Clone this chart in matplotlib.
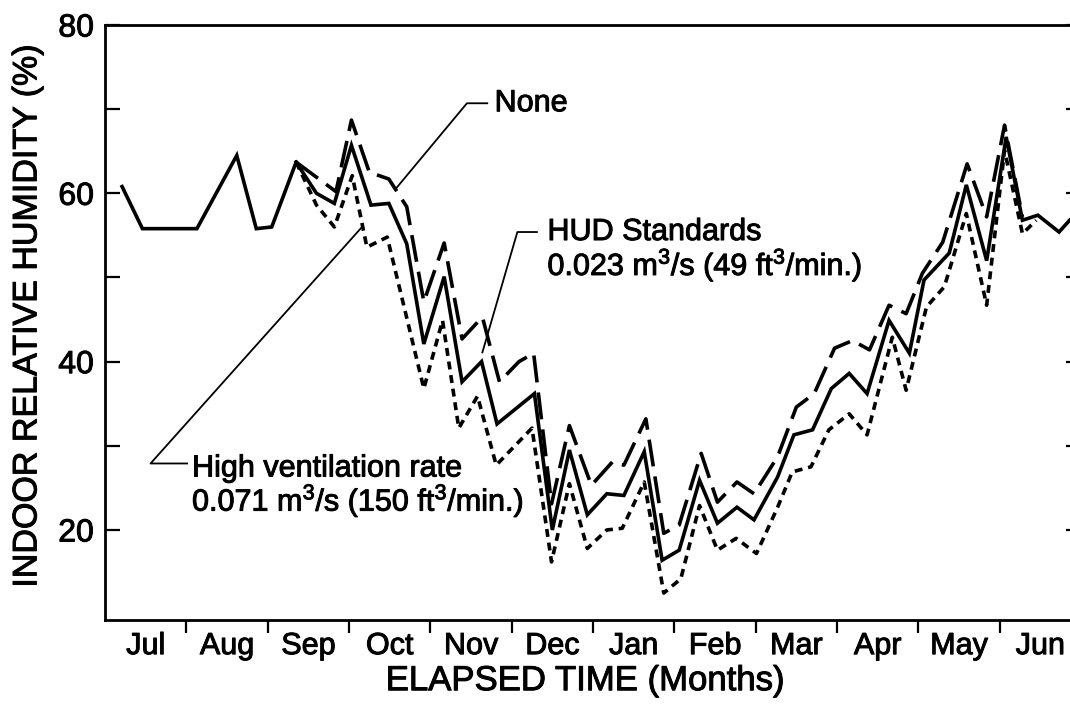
import matplotlib
matplotlib.use("Agg")
import matplotlib.pyplot as plt
import matplotlib.patheffects as pe
import numpy as np

plt.rcParams['font.family'] = ['Liberation Sans', 'DejaVu Sans']
plt.rcParams['mathtext.fontset'] = 'custom'
plt.rcParams['mathtext.rm'] = 'Liberation Sans'
plt.rcParams['mathtext.it'] = 'Liberation Sans:italic'
plt.rcParams['mathtext.bf'] = 'Liberation Sans:bold'

# ---------------- data (x in elapsed months from start of July) -------------
months = ["Jul", "Aug", "Sep", "Oct", "Nov", "Dec", "Jan", "Feb", "Mar", "Apr", "May", "Jun"]

# common record before the three cases diverge
x_common = [0.21, 0.46, 1.13, 1.62, 1.86, 2.05, 2.35]
y_common = [60.8, 55.8, 55.8, 64.5, 55.8, 56.0, 63.7]

# None (long dashes)
x_none = [2.35, 2.63, 2.84, 3.03, 3.25, 3.49, 3.71, 3.92, 4.17, 4.39, 4.64, 4.85, 5.09,
          5.27, 5.49, 5.71, 5.98, 6.24, 6.38, 6.65, 6.87, 7.06, 7.33, 7.53, 7.77, 7.98,
          8.27, 8.50, 8.72, 8.97, 9.19, 9.40, 9.64, 9.85, 10.05, 10.30, 10.60, 10.84,
          11.06, 11.28]
y_none = [63.7, 61.7, 60.2, 68.7, 62.5, 61.7, 58.4, 47.1, 54.1, 42.7, 45.3, 37.6, 40.0,
          41.0, 23.1, 32.4, 25.3, 28.1, 27.7, 33.2, 19.6, 20.6, 29.1, 23.3, 25.7, 24.3,
          28.7, 34.6, 36.2, 41.6, 42.5, 41.4, 46.7, 45.7, 50.5, 54.2, 63.5, 57.2, 68.1,
          57.2]

# HUD Standards (solid)
x_hud = [2.35, 2.60, 2.82, 3.03, 3.27, 3.49, 3.71, 3.92, 4.17, 4.39, 4.63, 4.82, 5.28,
         5.50, 5.71, 5.93, 6.17, 6.38, 6.63, 6.85, 7.06, 7.31, 7.53, 7.77, 7.98, 8.27,
         8.47, 8.70, 8.93, 9.15, 9.37, 9.64, 9.89, 10.07, 10.38, 10.59, 10.84, 11.08,
         11.28, 11.47, 11.73, 11.86]
y_hud = [63.7, 60.0, 58.8, 65.7, 58.6, 58.8, 54.0, 42.1, 50.1, 37.6, 40.0, 32.6, 36.2,
         20.0, 29.5, 21.8, 24.3, 24.1, 29.3, 16.4, 17.6, 25.9, 20.8, 22.7, 21.2, 26.3,
         31.3, 31.9, 36.8, 38.6, 36.2, 44.9, 41.0, 49.7, 52.9, 61.0, 52.0, 66.7, 56.8,
         57.4, 55.4, 56.8]

# High ventilation rate (short dashes)
x_high = [2.35, 2.60, 2.82, 3.04, 3.22, 3.47, 3.92, 4.15, 4.35, 4.58, 4.81, 5.25, 5.49,
          5.71, 5.93, 6.17, 6.36, 6.63, 6.87, 7.08, 7.31, 7.53, 7.76, 8.01, 8.27, 8.45,
          8.68, 8.90, 9.15, 9.37, 9.68, 9.85, 10.10, 10.32, 10.59, 10.84, 11.06, 11.28,
          11.45]
y_high = [63.7, 58.6, 56.0, 62.1, 53.6, 54.8, 36.8, 44.9, 32.1, 35.9, 27.7, 32.1, 16.2,
          25.5, 17.8, 20.0, 20.2, 25.7, 12.5, 14.2, 22.9, 17.6, 19.0, 17.2, 22.7, 26.9,
          27.5, 31.9, 33.8, 31.3, 42.9, 36.6, 46.5, 48.9, 57.6, 46.7, 65.1, 55.2, 56.8]

y_major = [20, 40, 60, 80]
y_minor = [30, 50, 70]

# ---------------- figure -----------------------------------------------------
W, H = 1070, 704
fig = plt.figure(figsize=(W / 100, H / 100), dpi=100)
ax = fig.add_axes([105 / W, (H - 620) / H, 976 / W, 595 / H])

heavy = [pe.withStroke(linewidth=0.7, foreground='black')]

LW = 2.6
ax.plot(x_common, y_common, color='black', lw=LW, solid_joinstyle='miter')
ax.plot(x_hud, y_hud, color='black', lw=LW, solid_joinstyle='miter')
ax.plot(x_none, y_none, color='black', lw=LW, linestyle=(0, (7.5, 2.8)))
ax.plot(x_high, y_high, color='black', lw=LW, linestyle=(0, (2.2, 1.6)))

ax.set_xlim(0, 12)
ax.set_ylim(9.3, 80)

# spines
for s in ['left', 'bottom', 'top']:
    ax.spines[s].set_linewidth(2.0)
ax.spines['right'].set_visible(False)

# y ticks (inward, both sides)
ax.set_yticks(y_major)
ax.set_yticks(y_minor, minor=True)
ax.tick_params(axis='y', which='both', direction='in', length=11, width=1.6,
               left=True, right=True, labelright=False, labelsize=23, pad=8)

# x ticks: month boundaries marked, labels centred in each month
ax.set_xticks(np.arange(1, 12))
ax.set_xticklabels([])
ax.set_xticks(np.arange(12) + 0.5, minor=True)
ax.set_xticklabels(months, minor=True)
ax.tick_params(axis='x', which='major', direction='out', length=9, width=1.6)
ax.tick_params(axis='x', which='minor', length=0, labelsize=22, pad=8)

for lab in ax.get_yticklabels() + ax.get_xticklabels(minor=True):
    lab.set_path_effects(heavy)

ax.set_xlabel("ELAPSED TIME (Months)", fontsize=25, path_effects=heavy)
ax.xaxis.set_label_coords(0.492, -0.102)
ax.xaxis.label.set_va('center')
ax.set_ylabel("INDOOR RELATIVE HUMIDITY (%)", fontsize=24.5, path_effects=heavy)
ax.yaxis.set_label_coords(-0.079, 0.51)
ax.yaxis.label.set_va('center')

# ---------------- annotations ------------------------------------------------
LLW = 1.3
FS = 22
# None
ax.plot([3.58, 4.45, 4.70], [60.6, 70.7, 70.7], color='black', lw=LLW)
ax.text(4.79, 70.7, "None", fontsize=FS, ha='left', va='center', path_effects=heavy)
# HUD Standards
ax.plot([4.64, 5.07, 5.31], [41.1, 55.4, 55.4], color='black', lw=LLW)
ax.text(5.44, 55.4, "HUD Standards", fontsize=FS, ha='left', va='center',
        path_effects=heavy)
ax.text(5.44, 51.5, r"0.023 m$^{3}$/s (49 ft$^{3}$/min.)", fontsize=FS,
        ha='left', va='center', path_effects=heavy)
# High ventilation rate
ax.plot([3.16, 0.56, 1.01], [56.0, 27.9, 27.9], color='black', lw=LLW)
ax.text(1.07, 27.3, "High ventilation rate", fontsize=FS, ha='left', va='center',
        path_effects=heavy)
ax.text(1.07, 23.5, r"0.071 m$^{3}$/s (150 ft$^{3}$/min.)", fontsize=FS,
        ha='left', va='center', path_effects=heavy)

fig.savefig("out.png", dpi=100)
